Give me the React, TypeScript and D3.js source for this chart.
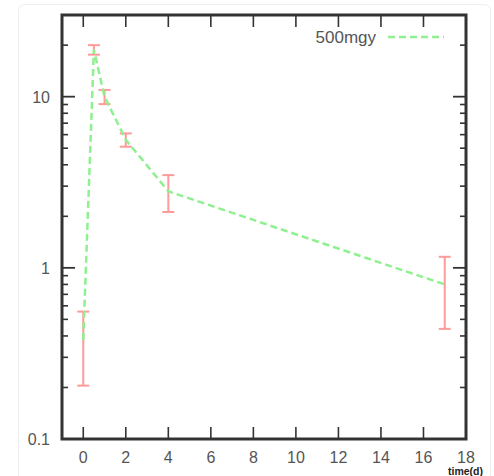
import React from "react";
import * as d3 from "d3";

// Measurements: time (days), mean, symmetric error
const times = [0, 0.5, 1, 2, 4, 17];
const means = [0.38, 18.8, 10.0, 5.6, 2.8, 0.8];
const errors = [0.175, 1.2, 0.95, 0.5, 0.68, 0.36];
const seriesName = "500mgy";
const xTicks = [0, 2, 4, 6, 8, 10, 12, 14, 16, 18];
const yMajor = [0.1, 1, 10];
const yLabels = ["0.1", "1", "10"];
const xTitle = "time(d)";

const W = 494;
const H = 476;
const left = 62, right = 466, top = 15, bottom = 439;

export default function App() {
  const x = d3.scaleLinear().domain([-1, 18]).range([left, right]);
  const y = d3.scaleLog().domain([0.1, 30]).range([bottom, top]);

  const minor: number[] = [];
  [0.1, 1, 10].forEach((d) => {
    for (let k = 2; k <= 9; k++) {
      const v = d * k;
      if (v < 30) minor.push(v);
    }
  });

  const pts = times.map((t, i) => ({ t, m: means[i], e: errors[i] }));
  const line = d3
    .line<{ t: number; m: number }>()
    .x((d) => x(d.t))
    .y((d) => y(d.m));

  const green = "#8ff08f";
  const red = "#ff9a9a";
  const axisColor = "#333";
  const textColor = "#555";
  const font = "Liberation Sans, Arial, sans-serif";

  return (
    <svg width={W} height={H} style={{ position: "absolute", left: 0, top: 0 }}>
      <rect x={0} y={0} width={W} height={H} fill="#fff" />
      <rect x={18.5} y={4.5} width={472} height={480} rx={6} fill="none" stroke="#eee" />

      {/* error bars */}
      {pts.map((p, i) => {
        const cx = x(p.t);
        const y1 = y(p.m + p.e);
        const y0 = y(p.m - p.e);
        return (
          <g key={i} stroke={red} strokeWidth={2} fill="none">
            <line x1={cx} x2={cx} y1={y1} y2={y0} />
            <line x1={cx - 6} x2={cx + 6} y1={y1} y2={y1} />
            <line x1={cx - 6} x2={cx + 6} y1={y0} y2={y0} />
          </g>
        );
      })}

      {/* series line */}
      <path
        d={line(pts) || ""}
        fill="none"
        stroke={green}
        strokeWidth={2.5}
        strokeDasharray="7,4"
      />

      {/* frame */}
      <rect
        x={left}
        y={top}
        width={right - left}
        height={bottom - top}
        fill="none"
        stroke={axisColor}
        strokeWidth={3}
      />

      {/* x ticks (bottom and top, inward) */}
      {xTicks.map((t) => (
        <g key={"xt" + t} stroke={axisColor} strokeWidth={1.6}>
          <line x1={x(t)} x2={x(t)} y1={bottom} y2={bottom - 12} />
          <line x1={x(t)} x2={x(t)} y1={top} y2={top + 12} />
        </g>
      ))}
      {xTicks.map((t) => (
        <text
          key={"xl" + t}
          x={x(t)}
          y={bottom + 24}
          textAnchor="middle"
          fontFamily={font}
          fontSize={16}
          fill={textColor}
        >
          {t}
        </text>
      ))}

      {/* y ticks (left and right, inward) */}
      {yMajor.map((v) => (
        <g key={"ym" + v} stroke={axisColor} strokeWidth={1.8}>
          <line x1={left} x2={left + 13} y1={y(v)} y2={y(v)} />
          <line x1={right} x2={right - 13} y1={y(v)} y2={y(v)} />
        </g>
      ))}
      {minor.map((v) => (
        <g key={"yn" + v} stroke={axisColor} strokeWidth={1.6}>
          <line x1={left} x2={left + 6} y1={y(v)} y2={y(v)} />
          <line x1={right} x2={right - 6} y1={y(v)} y2={y(v)} />
        </g>
      ))}
      {yMajor.map((v, i) => (
        <text
          key={"yl" + v}
          x={50}
          y={y(v) + 6}
          textAnchor="end"
          fontFamily={font}
          fontSize={16}
          fill={textColor}
        >
          {yLabels[i]}
        </text>
      ))}

      {/* legend */}
      <text
        x={376}
        y={43}
        textAnchor="end"
        fontFamily={font}
        fontSize={17}
        fill={textColor}
      >
        {seriesName}
      </text>
      <line
        x1={388}
        x2={444}
        y1={37}
        y2={37}
        stroke={green}
        strokeWidth={2.5}
        strokeDasharray="7,4"
      />

      {/* x-axis title */}
      <text
        x={448}
        y={475}
        fontFamily={font}
        fontSize={10.5}
        fontWeight="bold"
        fill="#222"
      >
        {xTitle}
      </text>
    </svg>
  );
}
